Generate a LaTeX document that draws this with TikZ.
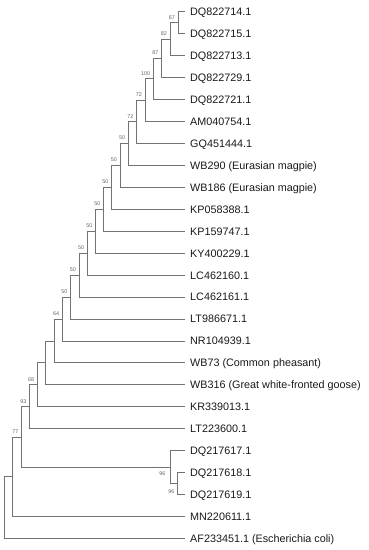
\documentclass[tikz,border=0pt]{standalone}
\usepackage{fontspec}
\setmainfont{Liberation Sans}
\usetikzlibrary{calc}
\begin{document}
\begin{tikzpicture}[x=1pt,y=-1pt,
  leaf/.style={anchor=west,inner xsep=5pt,inner ysep=0pt,text height=7.8pt,text depth=0pt,
    font=\fontsize{10.8}{12}\selectfont,text=black!90},
  br/.style={draw=black!55,line width=0.9pt},
  bs/.style={anchor=east,inner sep=0pt,font=\fontsize{5.4}{6}\selectfont,text=black!60}]
\useasboundingbox (0,0) rectangle (368,550);
% leaves
\node[leaf] (L0)  at (185,11.7)   {DQ822714.1};
\node[leaf] (L1)  at (185,33.65)  {DQ822715.1};
\node[leaf] (L2)  at (185,55.6)   {DQ822713.1};
\node[leaf] (L3)  at (185,77.55)  {DQ822729.1};
\node[leaf] (L4)  at (185,99.5)   {DQ822721.1};
\node[leaf] (L5)  at (185,121.45) {AM040754.1};
\node[leaf] (L6)  at (185,143.4)  {GQ451444.1};
\node[leaf] (L7)  at (185,165.35) {WB290 (Eurasian magpie)};
\node[leaf] (L8)  at (185,187.3)  {WB186 (Eurasian magpie)};
\node[leaf] (L9)  at (185,209.25) {KP058388.1};
\node[leaf] (L10) at (185,231.2)  {KP159747.1};
\node[leaf] (L11) at (185,253.15) {KY400229.1};
\node[leaf] (L12) at (185,275.1)  {LC462160.1};
\node[leaf] (L13) at (185,297.05) {LC462161.1};
\node[leaf] (L14) at (185,319)    {LT986671.1};
\node[leaf] (L15) at (185,340.95) {NR104939.1};
\node[leaf] (L16) at (185,362.9)  {WB73 (Common pheasant)};
\node[leaf] (L17) at (185,384.85) {WB316 (Great white-fronted goose)};
\node[leaf] (L18) at (185,406.8)  {KR339013.1};
\node[leaf] (L19) at (185,428.75) {LT223600.1};
\node[leaf] (L20) at (185,450.7)  {DQ217617.1};
\node[leaf] (L21) at (185,472.65) {DQ217618.1};
\node[leaf] (L22) at (185,494.6)  {DQ217619.1};
\node[leaf] (L23) at (185,516.55) {MN220611.1};
\node[leaf] (L24) at (185,538.5)  {AF233451.1 (Escherichia coli)};
% internal nodes
\coordinate (n1)  at (178,22.7);
\coordinate (n2)  at (170,39.15);
\coordinate (n3)  at (161.7,58.35);
\coordinate (n4)  at (153.3,78.9);
\coordinate (n5)  at (145,100.2);
\coordinate (n6)  at (136.7,121.8);
\coordinate (n7)  at (128.3,143.6);
\coordinate (n8)  at (120,165.45);
\coordinate (n9)  at (111.7,187.35);
\coordinate (n10) at (103.5,209.3);
\coordinate (n11) at (95.5,231.2);
\coordinate (n12) at (87.3,253.15);
\coordinate (n13) at (79,275.1);
\coordinate (n14) at (70.7,297.05);
\coordinate (n15) at (62.3,319);
\coordinate (n16) at (54,340.95);
\coordinate (n17) at (45.7,362.9);
\coordinate (n18) at (37.3,384.85);
\coordinate (n19) at (29.5,406.8);
\coordinate (c2)  at (177.7,483.6);
\coordinate (c1)  at (170,467.15);
\coordinate (n20) at (21.5,436.98);
\coordinate (n21) at (12.7,476.77);
\coordinate (root) at (4.3,507.6);
% branches
\draw[br] (n1) |- (L0.west);  \draw[br] (n1) |- (L1.west);
\draw[br] (n2) |- (n1);       \draw[br] (n2) |- (L2.west);
\draw[br] (n3) |- (n2);       \draw[br] (n3) |- (L3.west);
\draw[br] (n4) |- (n3);       \draw[br] (n4) |- (L4.west);
\draw[br] (n5) |- (n4);       \draw[br] (n5) |- (L5.west);
\draw[br] (n6) |- (n5);       \draw[br] (n6) |- (L6.west);
\draw[br] (n7) |- (n6);       \draw[br] (n7) |- (L7.west);
\draw[br] (n8) |- (n7);       \draw[br] (n8) |- (L8.west);
\draw[br] (n9) |- (n8);       \draw[br] (n9) |- (L9.west);
\draw[br] (n10) |- (n9);      \draw[br] (n10) |- (L10.west);
\draw[br] (n11) |- (n10);     \draw[br] (n11) |- (L11.west);
\draw[br] (n12) |- (n11);     \draw[br] (n12) |- (L12.west);
\draw[br] (n13) |- (n12);     \draw[br] (n13) |- (L13.west);
\draw[br] (n14) |- (n13);     \draw[br] (n14) |- (L14.west);
\draw[br] (n15) |- (n14);     \draw[br] (n15) |- (L15.west);
\draw[br] (n16) |- (n15);     \draw[br] (n16) |- (L16.west);
\draw[br] (n17) |- (n16);     \draw[br] (n17) |- (L17.west);
\draw[br] (n18) |- (n17);     \draw[br] (n18) |- (L18.west);
\draw[br] (n19) |- (n18);     \draw[br] (n19) |- (L19.west);
\draw[br] (c2) |- (L21.west); \draw[br] (c2) |- (L22.west);
\draw[br] (c1) |- (L20.west); \draw[br] (c1) |- (c2);
\draw[br] (n20) |- (n19);     \draw[br] (n20) |- (c1);
\draw[br] (n21) |- (n20);     \draw[br] (n21) |- (L23.west);
\draw[br] (root) |- (n21);    \draw[br] (root) |- (L24.west);
% bootstrap values
\node[bs] (b1)  at ($(n1)+(-3,-5.5)$) {67};
\node[bs] (b2)  at ($(n2)+(-3,-5.5)$) {82};
\node[bs] (b3)  at ($(n3)+(-3,-5.5)$) {87};
\node[bs] (b4)  at ($(n4)+(-3,-5.5)$) {100};
\node[bs] (b5)  at ($(n5)+(-3,-5.5)$) {72};
\node[bs] (b6)  at ($(n6)+(-3,-5.5)$) {72};
\node[bs] (b7)  at ($(n7)+(-3,-5.5)$) {50};
\node[bs] (b8)  at ($(n8)+(-3,-5.5)$) {50};
\node[bs] (b9)  at ($(n9)+(-3,-5.5)$) {50};
\node[bs] (b10) at ($(n10)+(-3,-5.5)$) {50};
\node[bs] (b11) at ($(n11)+(-3,-5.5)$) {50};
\node[bs] (b12) at ($(n12)+(-3,-5.5)$) {50};
\node[bs] (b13) at ($(n13)+(-3,-5.5)$) {50};
\node[bs] (b14) at ($(n14)+(-3,-5.5)$) {50};
\node[bs] (b15) at ($(n15)+(-3,-5.5)$) {64};
\node[bs] (b18) at ($(n18)+(-3,-5.5)$) {68};
\node[bs] (b19) at ($(n19)+(-3,-5.5)$) {93};
\node[bs] (b20) at ($(n20)+(-3,-5.5)$) {77};
\node[bs] (bc1) at ($(c1)+(-4.5,6.5)$) {96};
\node[bs] (bc2) at ($(c2)+(-3,8)$) {96};
\end{tikzpicture}
\end{document}
